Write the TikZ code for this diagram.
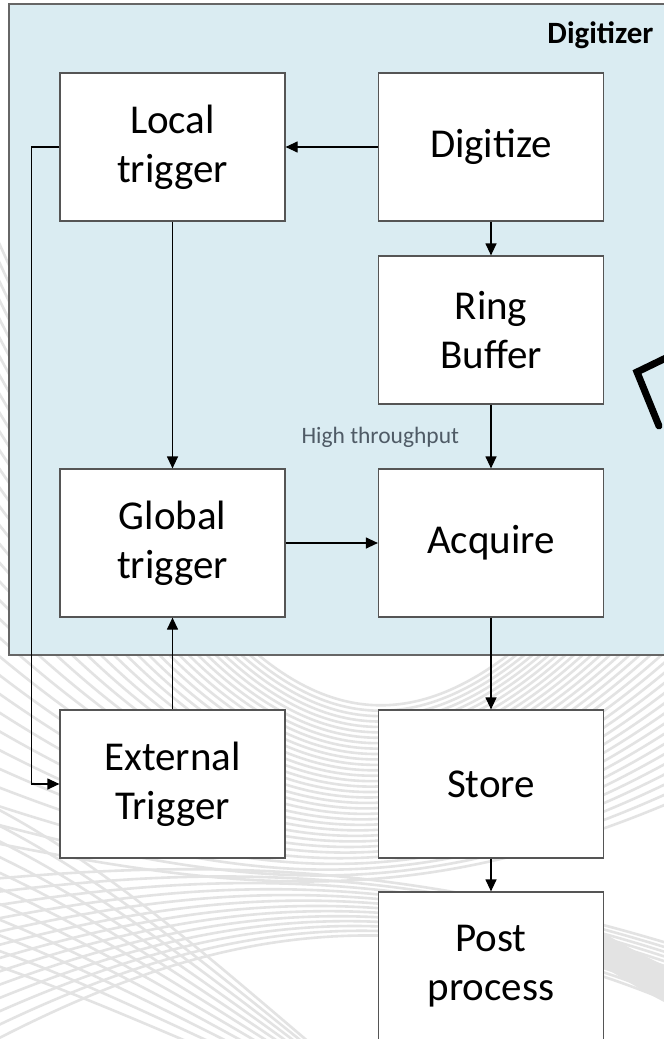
\documentclass[tikz,border=0pt]{standalone}
\usepackage{fontspec}
\setmainfont{Carlito}
\usetikzlibrary{arrows.meta}
\definecolor{panelblue}{HTML}{DAECF2}
\definecolor{panelrule}{HTML}{666666}
\definecolor{boxrule}{HTML}{555555}
\definecolor{notegray}{HTML}{4F5B66}
\definecolor{swirl}{HTML}{E3E3E3}
\tikzset{
  stepbox/.style={draw=boxrule, line width=1.2pt, fill=white, inner sep=0pt,
    minimum width=225pt, minimum height=148pt, align=center,
    font=\fontsize{41}{49}\selectfont},
  conn/.style={draw=black, line width=1.2pt, -{Triangle[length=12pt,width=11pt]}},
  bgline/.style={draw=swirl, line width=2.6pt},
}
\begin{document}
\begin{tikzpicture}[x=1pt, y=-1pt]
\useasboundingbox (0,0) rectangle (664,1039);
\clip (0,0) rectangle (664,1039);
\fill[white] (0,0) rectangle (664,1039);

% background swirl pattern: an hourglass bundle with its waist low in the middle
\foreach \i in {-18,...,14} {
  \draw[bgline] (-20, 560+\i*20) .. controls (240, 850+\i*3) and (420, 885+\i*2) .. (690, 640+\i*11);
}
\foreach \i in {0,...,12} {
  \draw[bgline] (-20, 880+\i*14) .. controls (200, 860+\i*6) and (400, 860+\i*2) .. (690, 950+\i*5);
}
\foreach \i in {0,...,10} {
  \draw[bgline] (-20, 800+\i*16) .. controls (100, 860+\i*14) and (200, 950+\i*10) .. (330, 1060+\i*4);
}
\fill[swirl] (540,895) .. controls (590,925) and (630,950) .. (670,968) -- (670,1005) .. controls (630,985) and (585,955) .. (540,925) -- cycle;

% digitizer panel
\draw[fill=panelblue, draw=panelrule, line width=1.5pt] (9,4) rectangle (690,655);
\node[anchor=base east, font=\fontsize{31}{36}\selectfont\bfseries] (title) at (657,43) {Digitizer};

% processing steps
\node[stepbox] (lt) at (172.5,147) {Local\\trigger};
\node[stepbox] (dg) at (491,147) {Digitize};
\node[stepbox] (rb) at (491,330) {Ring\\Buffer};
\node[stepbox] (gt) at (172.5,543) {Global\\trigger};
\node[stepbox] (aq) at (491,543) {Acquire};
\node[stepbox] (et) at (172.5,784) {External\\Trigger};
\node[stepbox] (st) at (491,784) {Store};
\node[stepbox] (pp) at (491,966) {Post\\process};

% data and trigger paths
\draw[conn] (dg.west) -- (lt.east);
\draw[conn] (dg.south) -- (rb.north);
\draw[conn] (rb.south) -- (aq.north);
\draw[conn] (lt.south) -- (gt.north);
\draw[conn] (gt.east) -- (aq.west);
\draw[conn] (et.north) -- (gt.south);
\draw[conn] (aq.south) -- (st.north);
\draw[conn] (st.south) -- (pp.north);
\draw[conn] (lt.west) -- ++(-28,0) |- (et.west);

\node[anchor=base west, text=notegray, font=\fontsize{23.5}{28}\selectfont] (note) at (298,443) {High throughput};

% pointer mark
\draw[line width=7pt, line cap=round, line join=miter] (670,356) -- (637,372) -- (659,426);
\end{tikzpicture}
\end{document}
